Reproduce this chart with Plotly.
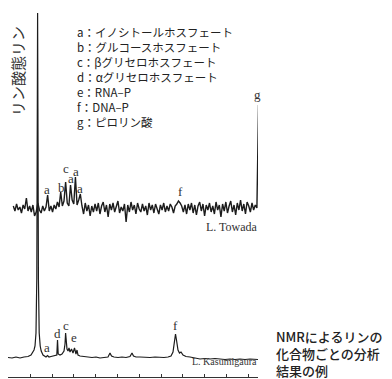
import plotly.graph_objects as go

# ---------------- data ----------------
# Upper spectrum (L. Towada): intensities sampled on a regular chemical-shift grid
TOWADA_PPM_START = 7.78
TOWADA_PPM_STEP = 0.075
TOWADA_VALUES = [
    2, -3, 4, -2, 1, -5, 3, -1, 10, -3,
    2, -4, 3, -8, -4, 5, -2, -5, 2, -3,
    1, 13, -3, 2, -4, 3, -1, 6, 1, 16,
    2, 7, 26, 5, 2, 23, 8, 4, 31, 3,
    8, 14, 2, -6, 5, -3, 3, -8, 2, -4,
    4, -3, 5, -6, 2, 6, -4, 3, -9, 4,
    -2, 5, -4, 2, 7, -5, 1, -3, 4, -14,
    3, -4, 6, -2, 3, -6, 5, -1, -4, 4,
    -3, 2, -7, 5, -2, 3, -5, 4, -1, -6,
    3, -2, 5, -4, 2, -3, 4, 1, -5, 2,
    4, 7, 5, 2, -4, 3, -6, 4, -2, 5,
    -5, 3, -7, 2, 6, -3, 4, -8, 3, -2,
    5, -4, 2, -6, 6, -2, 3, -9, 4, -3,
    6, -5, 2, 7, -4, 3, -7, 5, -2, 8,
    -3, 4, -6, 6, 2, -4, 5, -2, 3, 0,
    103, 4, -2, -4,
]

# Lower spectrum (L. Kasumigaura)
KASUMI_PPM = [
    8.023, 7.839, 7.656, 7.472, 7.289, 7.106, 6.968, 6.876, 6.830, 6.784,
    6.739, 6.702, 6.679, 6.665, 6.651, 6.628, 6.592, 6.546, 6.500, 6.417,
    6.372, 6.280, 6.211, 6.142, 6.050, 5.959, 5.867, 5.784, 5.752, 5.720,
    5.638, 5.546, 5.454, 5.408, 5.381, 5.349, 5.317, 5.271, 5.225, 5.179,
    5.110, 5.041, 4.972, 4.904, 4.858, 4.812, 4.720, 4.537, 4.353, 4.170,
    3.986, 3.803, 3.619, 3.436, 3.344, 3.275, 3.161, 2.977, 2.794, 2.610,
    2.427, 2.335, 2.266, 2.151, 1.968, 1.739, 1.509, 1.280, 1.050, 0.867,
    0.683, 0.546, 0.454, 0.385, 0.339, 0.294, 0.225, 0.156, 0.087, -0.005,
    -0.142, -0.326, -0.555, -0.784, -1.014, -1.243, -1.472, -1.702, -1.931, -2.161,
    -2.390, -2.619, -2.849, -3.078, -3.307, -3.445,
]
KASUMI_VALUES = [
    0.5, 0, 1, 0, 1, 1.5, 3, 6, 8, 12,
    25, 80, 250, 345, 250, 80, 25, 12, 7, 3,
    2, 1, 2.5, 1, 1.5, 2, 3, 3, 18, 4,
    3, 4, 7, 14, 25, 14, 9, 7, 10, 6,
    9, 5, 10, 4, 8, 3, 2, 1.5, 1, 0.5,
    1, 0, 0.5, 1, 5, 2, 1, 0.5, 1, 0.5,
    1.5, 5, 2, 1, 1, 0.5, 0.5, 1, 0.5, 0.5,
    1, 2, 6, 18, 24, 18, 8, 5, 6, 3,
    1.5, 1, 0, -1, -0.5, -1, -0.5, -1, -1.5, -1,
    -1.5, -1, -1.5, -1, -1.5, -1.5,
]

# peak labels: (label, ppm, height above the spectrum baseline)
TOWADA_LABELS = [("a", 6.248, 19), ("b", 5.592, 21), ("c", 5.362, 40), ("a", 5.147, 30),
                 ("a", 4.904, 37), ("a", 4.720, 20), ("f", 0.133, 17), ("g", -3.399, 114)]
KASUMI_LABELS = [("a", 6.234, 11), ("d", 5.775, 25), ("c", 5.362, 33), ("e", 4.995, 21),
                 ("f", 0.317, 33)]

LEGEND_LINES = [
    "a：イノシトールホスフェート",
    "b：グルコースホスフェート",
    "c：βグリセロホスフェート",
    "d：αグリセロホスフェート",
    "e：RNA–P",
    "f：DNA–P",
    "g：ピロリン酸",
]
Y_TITLE = "リン酸態リン"
CAPTION_LINES = ["NMRによるリンの", "化合物ごとの分析", "結果の例"]
TICK_PPM = [8, 7, 6, 5, 4, 3, 2, 1, 0, -1, -2, -3]

# ---------------- layout constants ----------------
TOWADA_OFFSET = 169
KASUMI_OFFSET = 19
LINE_COLOR = "#1c1c1c"
SERIF = "Liberation Serif, Times New Roman, serif"
JP = "Noto Sans CJK JP, sans-serif"

towada_ppm = [TOWADA_PPM_START - TOWADA_PPM_STEP * i for i in range(len(TOWADA_VALUES))]

fig = go.Figure()
fig.add_trace(go.Scatter(x=towada_ppm, y=[v + TOWADA_OFFSET for v in TOWADA_VALUES],
                         mode="lines", line=dict(color=LINE_COLOR, width=1.4),
                         hoverinfo="skip", showlegend=False))
fig.add_trace(go.Scatter(x=KASUMI_PPM, y=[v + KASUMI_OFFSET for v in KASUMI_VALUES],
                         mode="lines", line=dict(color=LINE_COLOR, width=1.2),
                         hoverinfo="skip", showlegend=False))

ann = []
for lab, x, h in TOWADA_LABELS:
    ann.append(dict(x=x, y=TOWADA_OFFSET + h, text=lab, xref="x", yref="y", showarrow=False,
                    font=dict(family=SERIF, size=13, color="#333")))
for lab, x, h in KASUMI_LABELS:
    ann.append(dict(x=x, y=KASUMI_OFFSET + h, text=lab, xref="x", yref="y", showarrow=False,
                    font=dict(family=SERIF, size=13, color="#333")))

ann.append(dict(x=1.006, y=150, text="L. Towada", xref="paper", yref="y", showarrow=False,
                xanchor="right", font=dict(family=SERIF, size=12, color="#333")))
ann.append(dict(x=1.004, y=16, text="L. Kasumigaura", xref="paper", yref="y", showarrow=False,
                xanchor="right", font=dict(family=SERIF, size=10, color="#333")))

ann.append(dict(x=4.95, y=300, text="<br>".join(LEGEND_LINES), xref="x", yref="y",
                showarrow=False, xanchor="left", yanchor="middle", align="left",
                font=dict(family=JP, size=11.5, color="#222")))

ann.append(dict(x=7.61, y=306, text=Y_TITLE, xref="x", yref="y", showarrow=False,
                textangle=-90, font=dict(family=JP, size=15, color="#333")))

ann.append(dict(x=1.062, y=24, text="<br>".join(CAPTION_LINES), xref="paper", yref="y",
                showarrow=False, xanchor="left", yanchor="middle", align="left",
                font=dict(family=JP, size=13, color="#222", weight=500)))

fig.update_layout(
    width=392, height=379,
    margin=dict(l=0, r=142, t=0, b=10),
    paper_bgcolor="white", plot_bgcolor="white",
    xaxis=dict(range=[8.023, -3.445], tickvals=TICK_PPM, ticks="inside", ticklen=3,
               tickcolor="#333", showticklabels=False, showline=True, linecolor="#333",
               linewidth=1, showgrid=False, zeroline=False),
    yaxis=dict(range=[0, 369], visible=False, showgrid=False, zeroline=False),
    annotations=ann,
)

fig.write_html("out.html")
